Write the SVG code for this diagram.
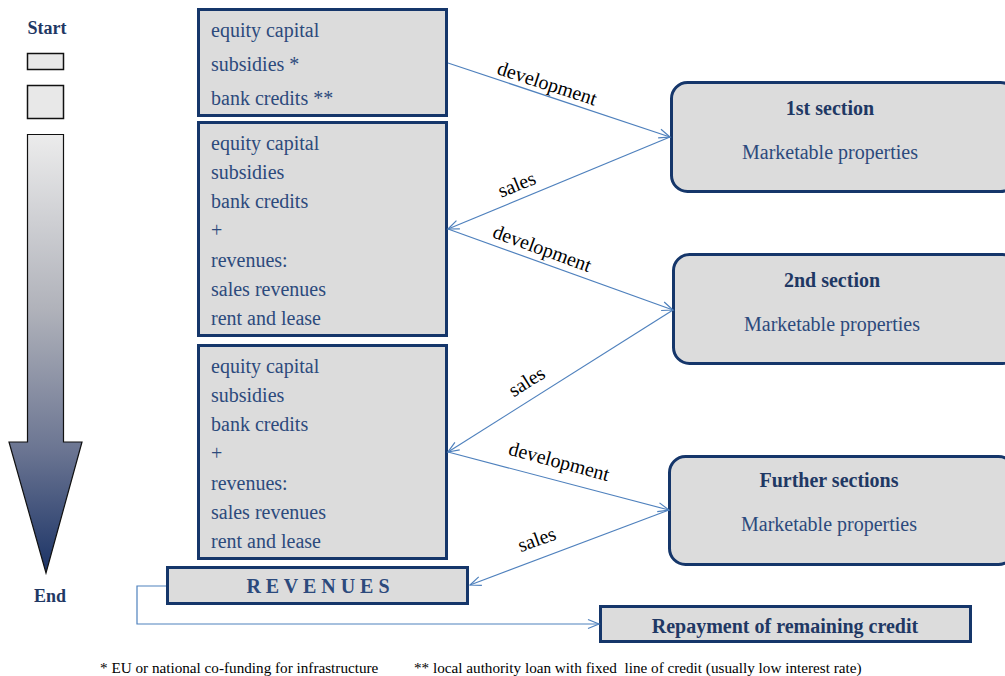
<svg xmlns="http://www.w3.org/2000/svg" width="1005" height="676" viewBox="0 0 1005 676">
<defs>
<linearGradient id="arrowGrad" x1="0" y1="134" x2="0" y2="573" gradientUnits="userSpaceOnUse">
<stop offset="0" stop-color="#ececec"/>
<stop offset="0.4" stop-color="#b0b2ba"/>
<stop offset="0.72" stop-color="#6b7592"/>
<stop offset="1" stop-color="#1b3366"/>
</linearGradient>
<marker id="open" markerUnits="userSpaceOnUse" markerWidth="14" markerHeight="12" refX="11" refY="5" orient="auto" overflow="visible">
<path d="M0,0.5 L11,5 L0,9.5" fill="none" stroke="#4f81bd" stroke-width="1.2"/>
</marker>
</defs>
<style>
.fin{fill:#dcdcdc;stroke:#15366a;stroke-width:3}
.sec{fill:#dcdcdc;stroke:#15366a;stroke-width:3}
.ft{font-family:"Liberation Serif","Times New Roman",serif;font-size:20px;fill:#2c4a7c}
.title{font-family:"Liberation Serif","Times New Roman",serif;font-size:20px;font-weight:bold;fill:#1f3864}
.side{font-family:"Liberation Serif","Times New Roman",serif;font-size:18px;font-weight:bold;fill:#1f3864}
.lbl{font-family:"Liberation Serif","Times New Roman",serif;font-size:20px;fill:#000}
.note{font-family:"Liberation Serif","Times New Roman",serif;font-size:15.2px;fill:#000}
.conn{fill:none;stroke:#4f81bd;stroke-width:1.2}
.small{fill:#e8e8e8;stroke:#111;stroke-width:1.5}
</style>

<g id="timeline">
<text class="side" x="47" y="34" text-anchor="middle">Start</text>
<rect class="small" x="27.5" y="53.5" width="36" height="16"/>
<rect class="small" x="27.5" y="85.5" width="36" height="33"/>
<path d="M27.5,134.5 H63.5 V442 H82 L46,573 L9,442 H27.5 Z" fill="url(#arrowGrad)" stroke="#111" stroke-width="1.2"/>
<text class="side" x="50" y="602" text-anchor="middle">End</text>
</g>

<g id="fin1">
<rect class="fin" x="198.5" y="9.5" width="248" height="106"/>
<text class="ft" x="211" y="37">equity capital</text>
<text class="ft" x="211" y="71">subsidies *</text>
<text class="ft" x="211" y="105">bank credits **</text>
</g>

<g id="fin2">
<rect class="fin" x="198.5" y="122.5" width="248" height="213"/>
<text class="ft" x="211" y="150">equity capital</text>
<text class="ft" x="211" y="179">subsidies</text>
<text class="ft" x="211" y="208">bank credits</text>
<text class="ft" x="211" y="237">+</text>
<text class="ft" x="211" y="267">revenues:</text>
<text class="ft" x="211" y="296">sales revenues</text>
<text class="ft" x="211" y="325">rent and lease</text>
</g>

<g id="fin3">
<rect class="fin" x="198.5" y="345.5" width="248" height="213"/>
<text class="ft" x="211" y="373">equity capital</text>
<text class="ft" x="211" y="402">subsidies</text>
<text class="ft" x="211" y="431">bank credits</text>
<text class="ft" x="211" y="460">+</text>
<text class="ft" x="211" y="490">revenues:</text>
<text class="ft" x="211" y="519">sales revenues</text>
<text class="ft" x="211" y="548">rent and lease</text>
</g>

<g id="revenues">
<rect class="fin" x="167.5" y="567.5" width="300" height="36"/>
<text class="title" x="318" y="593" text-anchor="middle" style="fill:#2c4a7c">R E V E N U E S</text>
</g>

<g id="repayment">
<rect class="fin" x="600.5" y="606.5" width="370" height="35"/>
<text class="title" x="785" y="633" text-anchor="middle">Repayment of remaining credit</text>
</g>

<g id="section1">
<rect class="sec" x="671.5" y="82.5" width="345" height="109" rx="16"/>
<text class="title" x="830" y="115" text-anchor="middle">1st section</text>
<text class="ft" x="830" y="159" text-anchor="middle">Marketable properties</text>
</g>

<g id="section2">
<rect class="sec" x="673.5" y="254.5" width="345" height="109" rx="16"/>
<text class="title" x="832" y="287" text-anchor="middle">2nd section</text>
<text class="ft" x="832" y="331" text-anchor="middle">Marketable properties</text>
</g>

<g id="section3">
<rect class="sec" x="669.5" y="456.5" width="345" height="108" rx="16"/>
<text class="title" x="829" y="487" text-anchor="middle">Further sections</text>
<text class="ft" x="829" y="531" text-anchor="middle">Marketable properties</text>
</g>

<g id="connectors">
<path class="conn" d="M448,63 L670,137" marker-end="url(#open)"/>
<path class="conn" d="M670,137 L448,229" marker-end="url(#open)"/>
<path class="conn" d="M448,229 L673,310" marker-end="url(#open)"/>
<path class="conn" d="M673,310 L448,452" marker-end="url(#open)"/>
<path class="conn" d="M448,452 L669,510" marker-end="url(#open)"/>
<path class="conn" d="M669,510 L470,585" marker-end="url(#open)"/>
<path class="conn" d="M166,586 L137,586 L137,624 L599,624" marker-end="url(#open)"/>
<g transform="translate(547,84) rotate(18)"><text class="lbl" x="0" y="6" text-anchor="middle">development</text></g>
<g transform="translate(517,185) rotate(-22)"><text class="lbl" x="0" y="6" text-anchor="middle">sales</text></g>
<g transform="translate(542,249) rotate(20)"><text class="lbl" x="0" y="6" text-anchor="middle">development</text></g>
<g transform="translate(527,382) rotate(-32)"><text class="lbl" x="0" y="6" text-anchor="middle">sales</text></g>
<g transform="translate(559,462) rotate(15)"><text class="lbl" x="0" y="6" text-anchor="middle">development</text></g>
<g transform="translate(537,540) rotate(-20)"><text class="lbl" x="0" y="6" text-anchor="middle">sales</text></g>
</g>

<g id="footnotes">
<text class="note" x="100" y="673">* EU or national co-funding for infrastructure</text>
<text class="note" x="414" y="673" xml:space="preserve">** local authority loan with fixed  line of credit (usually low interest rate)</text>
</g>
</svg>
